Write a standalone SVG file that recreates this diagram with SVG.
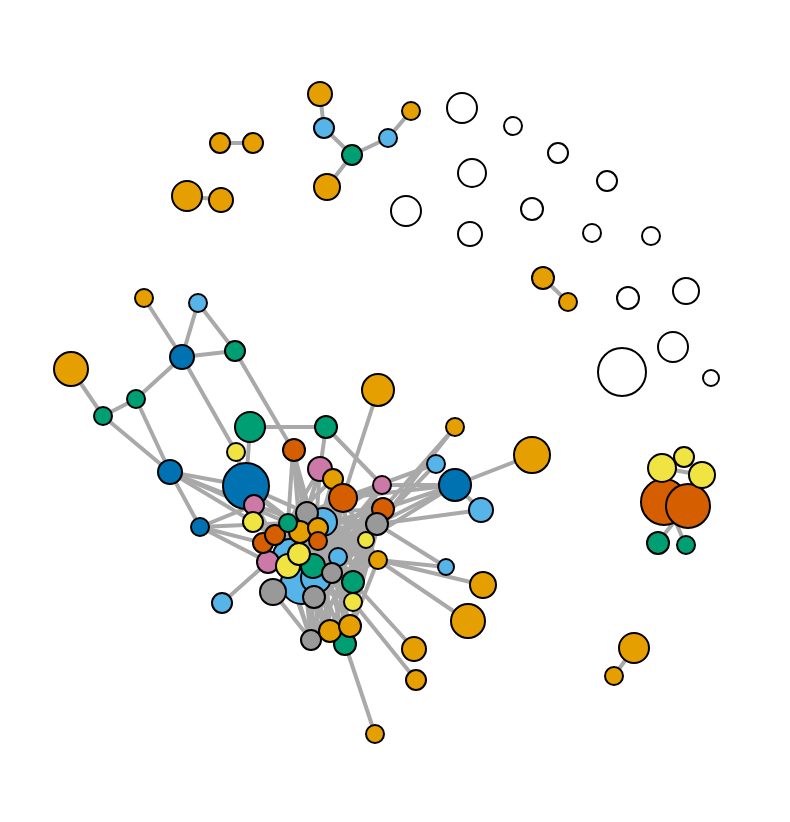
<svg xmlns="http://www.w3.org/2000/svg" width="790" height="822" viewBox="0 0 790 822">
<style>
.e line{stroke:#A9A9A9;stroke-width:4;stroke-linecap:round}
circle{stroke:#000;stroke-width:2}
.or{fill:#E69F00}.sk{fill:#56B4E9}.gr{fill:#009E73}.ye{fill:#F0E442}.bl{fill:#0072B2}.vm{fill:#D55E00}.pk{fill:#CC79A7}.gy{fill:#999999}.wh{fill:#FFFFFF}
</style>
<rect width="790" height="822" fill="#fff"/>
<g id="connectors" class="e">
<line x1="220" y1="143" x2="253" y2="143"/>
<line x1="187" y1="196" x2="221" y2="200"/>
<line x1="320" y1="94" x2="324" y2="128"/>
<line x1="324" y1="128" x2="352" y2="155"/>
<line x1="352" y1="155" x2="388" y2="138"/>
<line x1="388" y1="138" x2="411" y2="111"/>
<line x1="352" y1="155" x2="327" y2="187"/>
<line x1="543" y1="278" x2="568" y2="302"/>
<line x1="634" y1="648" x2="614" y2="676"/>
<line x1="662" y1="468" x2="684" y2="457"/>
<line x1="684" y1="457" x2="702" y2="475"/>
<line x1="662" y1="468" x2="702" y2="475"/>
<line x1="658" y1="542" x2="688" y2="505"/>
<line x1="685" y1="544" x2="667" y2="501"/>
<line x1="667" y1="501" x2="688" y2="505"/>
<line x1="144" y1="298" x2="182" y2="357"/>
<line x1="198" y1="303" x2="182" y2="357"/>
<line x1="198" y1="303" x2="235" y2="351"/>
<line x1="182" y1="357" x2="235" y2="351"/>
<line x1="182" y1="357" x2="136" y2="399"/>
<line x1="71" y1="369" x2="103" y2="416"/>
<line x1="103" y1="416" x2="136" y2="399"/>
<line x1="136" y1="399" x2="170" y2="472"/>
<line x1="103" y1="416" x2="170" y2="472"/>
<line x1="182" y1="357" x2="236" y2="452"/>
<line x1="235" y1="351" x2="293" y2="450"/>
<line x1="250" y1="427" x2="326" y2="427"/>
<line x1="250" y1="427" x2="246" y2="486"/>
<line x1="170" y1="472" x2="200" y2="527"/>
<line x1="170" y1="472" x2="246" y2="486"/>
<line x1="170" y1="472" x2="254" y2="505"/>
<line x1="170" y1="472" x2="288" y2="523"/>
<line x1="170" y1="472" x2="275" y2="535"/>
<line x1="200" y1="527" x2="254" y2="505"/>
<line x1="200" y1="527" x2="263" y2="543"/>
<line x1="200" y1="527" x2="288" y2="523"/>
<line x1="200" y1="527" x2="268" y2="562"/>
<line x1="222" y1="603" x2="268" y2="562"/>
<line x1="236" y1="452" x2="246" y2="486"/>
<line x1="246" y1="486" x2="300" y2="532"/>
<line x1="246" y1="486" x2="307" y2="513"/>
<line x1="246" y1="486" x2="288" y2="566"/>
<line x1="246" y1="486" x2="318" y2="541"/>
<line x1="254" y1="505" x2="318" y2="528"/>
<line x1="253" y1="522" x2="313" y2="566"/>
<line x1="293" y1="450" x2="300" y2="532"/>
<line x1="293" y1="450" x2="307" y2="513"/>
<line x1="293" y1="450" x2="318" y2="541"/>
<line x1="293" y1="450" x2="288" y2="523"/>
<line x1="293" y1="450" x2="313" y2="566"/>
<line x1="326" y1="427" x2="320" y2="469"/>
<line x1="326" y1="427" x2="382" y2="485"/>
<line x1="320" y1="469" x2="300" y2="532"/>
<line x1="320" y1="469" x2="288" y2="523"/>
<line x1="320" y1="469" x2="313" y2="566"/>
<line x1="320" y1="469" x2="307" y2="513"/>
<line x1="333" y1="479" x2="302" y2="583"/>
<line x1="333" y1="479" x2="275" y2="535"/>
<line x1="378" y1="390" x2="343" y2="498"/>
<line x1="382" y1="485" x2="343" y2="498"/>
<line x1="455" y1="427" x2="383" y2="509"/>
<line x1="455" y1="427" x2="366" y2="540"/>
<line x1="436" y1="464" x2="377" y2="524"/>
<line x1="436" y1="464" x2="343" y2="498"/>
<line x1="455" y1="485" x2="382" y2="485"/>
<line x1="455" y1="485" x2="383" y2="509"/>
<line x1="455" y1="485" x2="377" y2="524"/>
<line x1="455" y1="485" x2="343" y2="498"/>
<line x1="455" y1="485" x2="366" y2="540"/>
<line x1="532" y1="455" x2="455" y2="485"/>
<line x1="455" y1="485" x2="481" y2="510"/>
<line x1="481" y1="510" x2="377" y2="524"/>
<line x1="446" y1="567" x2="378" y2="560"/>
<line x1="446" y1="567" x2="377" y2="524"/>
<line x1="483" y1="585" x2="378" y2="560"/>
<line x1="468" y1="621" x2="378" y2="560"/>
<line x1="414" y1="649" x2="353" y2="582"/>
<line x1="416" y1="680" x2="353" y2="602"/>
<line x1="375" y1="734" x2="345" y2="644"/>
<line x1="307" y1="513" x2="377" y2="524"/><line x1="307" y1="513" x2="383" y2="509"/><line x1="307" y1="513" x2="366" y2="540"/><line x1="307" y1="513" x2="378" y2="560"/><line x1="307" y1="513" x2="353" y2="582"/><line x1="307" y1="513" x2="353" y2="602"/><line x1="307" y1="513" x2="343" y2="498"/><line x1="307" y1="513" x2="382" y2="485"/>
<line x1="300" y1="532" x2="377" y2="524"/><line x1="300" y1="532" x2="383" y2="509"/><line x1="300" y1="532" x2="366" y2="540"/><line x1="300" y1="532" x2="378" y2="560"/><line x1="300" y1="532" x2="353" y2="582"/><line x1="300" y1="532" x2="353" y2="602"/><line x1="300" y1="532" x2="343" y2="498"/><line x1="300" y1="532" x2="382" y2="485"/>
<line x1="275" y1="535" x2="377" y2="524"/><line x1="275" y1="535" x2="383" y2="509"/><line x1="275" y1="535" x2="366" y2="540"/><line x1="275" y1="535" x2="378" y2="560"/><line x1="275" y1="535" x2="353" y2="582"/><line x1="275" y1="535" x2="343" y2="498"/>
<line x1="288" y1="566" x2="377" y2="524"/><line x1="288" y1="566" x2="383" y2="509"/><line x1="288" y1="566" x2="366" y2="540"/><line x1="288" y1="566" x2="378" y2="560"/><line x1="288" y1="566" x2="353" y2="602"/><line x1="288" y1="566" x2="343" y2="498"/>
<line x1="273" y1="592" x2="377" y2="524"/><line x1="273" y1="592" x2="366" y2="540"/><line x1="273" y1="592" x2="353" y2="582"/><line x1="273" y1="592" x2="343" y2="498"/>
<line x1="302" y1="583" x2="377" y2="524"/><line x1="302" y1="583" x2="383" y2="509"/><line x1="302" y1="583" x2="366" y2="540"/><line x1="302" y1="583" x2="378" y2="560"/><line x1="302" y1="583" x2="353" y2="602"/><line x1="302" y1="583" x2="382" y2="485"/>
<line x1="313" y1="566" x2="377" y2="524"/><line x1="313" y1="566" x2="383" y2="509"/><line x1="313" y1="566" x2="378" y2="560"/><line x1="313" y1="566" x2="343" y2="498"/>
<line x1="268" y1="562" x2="377" y2="524"/><line x1="268" y1="562" x2="366" y2="540"/><line x1="268" y1="562" x2="343" y2="498"/>
<line x1="316" y1="578" x2="377" y2="524"/><line x1="316" y1="578" x2="383" y2="509"/><line x1="316" y1="578" x2="343" y2="498"/><line x1="316" y1="578" x2="366" y2="540"/>
<line x1="332" y1="573" x2="377" y2="524"/><line x1="332" y1="573" x2="383" y2="509"/><line x1="332" y1="573" x2="343" y2="498"/><line x1="332" y1="573" x2="382" y2="485"/>
<line x1="338" y1="557" x2="383" y2="509"/><line x1="338" y1="557" x2="382" y2="485"/><line x1="338" y1="557" x2="377" y2="524"/>
<line x1="314" y1="597" x2="377" y2="524"/><line x1="314" y1="597" x2="366" y2="540"/><line x1="314" y1="597" x2="383" y2="509"/><line x1="314" y1="597" x2="378" y2="560"/>
<line x1="323" y1="522" x2="377" y2="524"/><line x1="323" y1="522" x2="366" y2="540"/><line x1="323" y1="522" x2="378" y2="560"/><line x1="323" y1="522" x2="353" y2="582"/>
<line x1="318" y1="541" x2="353" y2="602"/><line x1="318" y1="541" x2="378" y2="560"/><line x1="318" y1="541" x2="383" y2="509"/>
<line x1="343" y1="498" x2="353" y2="582"/><line x1="343" y1="498" x2="366" y2="540"/><line x1="343" y1="498" x2="378" y2="560"/><line x1="343" y1="498" x2="311" y2="640"/>
<line x1="300" y1="532" x2="311" y2="640"/><line x1="288" y1="566" x2="311" y2="640"/><line x1="307" y1="513" x2="330" y2="631"/><line x1="288" y1="566" x2="330" y2="631"/><line x1="300" y1="532" x2="350" y2="626"/><line x1="313" y1="566" x2="345" y2="644"/><line x1="302" y1="583" x2="345" y2="644"/><line x1="273" y1="592" x2="311" y2="640"/><line x1="323" y1="522" x2="330" y2="631"/><line x1="338" y1="557" x2="345" y2="644"/><line x1="323" y1="522" x2="350" y2="626"/><line x1="307" y1="513" x2="311" y2="640"/>
<line x1="275" y1="535" x2="311" y2="640"/><line x1="275" y1="535" x2="330" y2="631"/><line x1="300" y1="532" x2="345" y2="644"/><line x1="318" y1="528" x2="311" y2="640"/><line x1="318" y1="528" x2="345" y2="644"/><line x1="332" y1="573" x2="311" y2="640"/><line x1="332" y1="573" x2="350" y2="626"/>
<line x1="377" y1="524" x2="353" y2="582"/><line x1="383" y1="509" x2="353" y2="602"/><line x1="366" y1="540" x2="330" y2="631"/><line x1="377" y1="524" x2="311" y2="640"/><line x1="378" y1="560" x2="345" y2="644"/><line x1="377" y1="524" x2="330" y2="631"/><line x1="383" y1="509" x2="345" y2="644"/><line x1="366" y1="540" x2="311" y2="640"/>
</g>
<g id="w1"><circle class="wh" cx="462" cy="108" r="15"/></g>
<g id="w2"><circle class="wh" cx="513" cy="126" r="9"/></g>
<g id="w3"><circle class="wh" cx="558" cy="153" r="10"/></g>
<g id="w4"><circle class="wh" cx="607" cy="181" r="10"/></g>
<g id="w5"><circle class="wh" cx="472" cy="173" r="14"/></g>
<g id="w6"><circle class="wh" cx="406" cy="211" r="15"/></g>
<g id="w7"><circle class="wh" cx="532" cy="209" r="11"/></g>
<g id="w8"><circle class="wh" cx="470" cy="234" r="12"/></g>
<g id="w9"><circle class="wh" cx="592" cy="233" r="9"/></g>
<g id="w10"><circle class="wh" cx="651" cy="236" r="9"/></g>
<g id="w11"><circle class="wh" cx="628" cy="298" r="11"/></g>
<g id="w12"><circle class="wh" cx="686" cy="291" r="13"/></g>
<g id="w13"><circle class="wh" cx="673" cy="347" r="15"/></g>
<g id="w14"><circle class="wh" cx="622" cy="372" r="24"/></g>
<g id="w15"><circle class="wh" cx="711" cy="378" r="8"/></g>
<g id="a1"><circle class="or" cx="220" cy="143" r="10"/></g>
<g id="a2"><circle class="or" cx="253" cy="143" r="10"/></g>
<g id="b1"><circle class="or" cx="187" cy="196" r="15"/></g>
<g id="b2"><circle class="or" cx="221" cy="200" r="12"/></g>
<g id="s1"><circle class="or" cx="320" cy="94" r="12"/></g>
<g id="s2"><circle class="sk" cx="324" cy="128" r="10"/></g>
<g id="s3"><circle class="gr" cx="352" cy="155" r="10"/></g>
<g id="s4"><circle class="sk" cx="388" cy="138" r="9"/></g>
<g id="s5"><circle class="or" cx="411" cy="111" r="9"/></g>
<g id="s6"><circle class="or" cx="327" cy="187" r="13"/></g>
<g id="p1"><circle class="or" cx="543" cy="278" r="11"/></g>
<g id="p2"><circle class="or" cx="568" cy="302" r="9"/></g>
<g id="q1"><circle class="or" cx="634" cy="648" r="15"/></g>
<g id="q2"><circle class="or" cx="614" cy="676" r="9"/></g>
<g id="r1"><circle class="vm" cx="664" cy="502" r="23"/></g>
<g id="r2"><circle class="vm" cx="688" cy="506" r="22"/></g>
<g id="r3"><circle class="ye" cx="662" cy="468" r="14"/></g>
<g id="r4"><circle class="ye" cx="684" cy="457" r="10"/></g>
<g id="r5"><circle class="ye" cx="702" cy="475" r="13"/></g>
<g id="r6"><circle class="gr" cx="658" cy="543" r="11"/></g>
<g id="r7"><circle class="gr" cx="686" cy="545" r="9"/></g>
<g id="m_or1"><circle class="or" cx="144" cy="298" r="9"/></g>
<g id="m_sk1"><circle class="sk" cx="198" cy="303" r="9"/></g>
<g id="m_bl1"><circle class="bl" cx="182" cy="357" r="12"/></g>
<g id="m_gr1"><circle class="gr" cx="235" cy="351" r="10"/></g>
<g id="m_or2"><circle class="or" cx="71" cy="369" r="17"/></g>
<g id="m_gr2"><circle class="gr" cx="136" cy="399" r="9"/></g>
<g id="m_gr3"><circle class="gr" cx="103" cy="416" r="9"/></g>
<g id="m_bl2"><circle class="bl" cx="170" cy="472" r="12"/></g>
<g id="m_bl3"><circle class="bl" cx="200" cy="527" r="9"/></g>
<g id="m_gr4"><circle class="gr" cx="250" cy="427" r="15"/></g>
<g id="m_ye1"><circle class="ye" cx="236" cy="452" r="9"/></g>
<g id="m_gr5"><circle class="gr" cx="326" cy="427" r="11"/></g>
<g id="m_or3"><circle class="or" cx="378" cy="390" r="16"/></g>
<g id="m_vm1"><circle class="vm" cx="294" cy="450" r="11"/></g>
<g id="m_bl4"><circle class="bl" cx="246" cy="486" r="23"/></g>
<g id="m_pk1"><circle class="pk" cx="254" cy="505" r="10"/></g>
<g id="m_ye2"><circle class="ye" cx="253" cy="522" r="10"/></g>
<g id="m_or10"><circle class="or" cx="455" cy="427" r="9"/></g>
<g id="m_sk8"><circle class="sk" cx="436" cy="464" r="9"/></g>
<g id="m_bl5"><circle class="bl" cx="455" cy="485" r="16"/></g>
<g id="m_or11"><circle class="or" cx="532" cy="455" r="18"/></g>
<g id="m_sk9"><circle class="sk" cx="481" cy="510" r="12"/></g>
<g id="m_sk10"><circle class="sk" cx="446" cy="567" r="8"/></g>
<g id="m_or12"><circle class="or" cx="483" cy="585" r="13"/></g>
<g id="m_or13"><circle class="or" cx="468" cy="621" r="17"/></g>
<g id="m_or14"><circle class="or" cx="414" cy="649" r="12"/></g>
<g id="m_or15"><circle class="or" cx="416" cy="680" r="10"/></g>
<g id="m_or16"><circle class="or" cx="375" cy="734" r="9"/></g>
<g id="m_sk3"><circle class="sk" cx="222" cy="603" r="10"/></g>
<g id="m_pk2"><circle class="pk" cx="320" cy="469" r="12"/></g>
<g id="m_or4"><circle class="or" cx="333" cy="479" r="10"/></g>
<g id="m_vm2"><circle class="vm" cx="343" cy="498" r="14"/></g>
<g id="m_pk3"><circle class="pk" cx="382" cy="485" r="9"/></g>
<g id="m_vm3"><circle class="vm" cx="383" cy="509" r="11"/></g>
<g id="m_gy1"><circle class="gy" cx="377" cy="524" r="11"/></g>
<g id="m_ye3"><circle class="ye" cx="366" cy="540" r="8"/></g>
<g id="m_or5"><circle class="or" cx="378" cy="560" r="9"/></g>
<g id="m_sk4"><circle class="sk" cx="302" cy="583" r="21"/></g>
<g id="m_sk6"><circle class="sk" cx="290" cy="556" r="17"/></g>
<g id="m_sk5"><circle class="sk" cx="316" cy="578" r="15"/></g>
<g id="m_sk7"><circle class="sk" cx="323" cy="522" r="14"/></g>
<g id="m_pk4"><circle class="pk" cx="268" cy="562" r="11"/></g>
<g id="m_vm6"><circle class="vm" cx="263" cy="543" r="10"/></g>
<g id="m_vm5"><circle class="vm" cx="275" cy="535" r="10"/></g>
<g id="m_gy6"><circle class="gy" cx="307" cy="513" r="11"/></g>
<g id="m_or8"><circle class="or" cx="300" cy="532" r="11"/></g>
<g id="m_or9"><circle class="or" cx="318" cy="528" r="10"/></g>
<g id="m_gr8"><circle class="gr" cx="288" cy="523" r="9"/></g>
<g id="m_vm4"><circle class="vm" cx="318" cy="541" r="9"/></g>
<g id="m_gr9"><circle class="gr" cx="313" cy="566" r="12"/></g>
<g id="m_ye6"><circle class="ye" cx="288" cy="566" r="12"/></g>
<g id="m_ye5"><circle class="ye" cx="299" cy="554" r="11"/></g>
<g id="m_sk2"><circle class="sk" cx="338" cy="557" r="9"/></g>
<g id="m_gy2"><circle class="gy" cx="332" cy="573" r="10"/></g>
<g id="m_gy4"><circle class="gy" cx="273" cy="592" r="13"/></g>
<g id="m_gy5"><circle class="gy" cx="314" cy="597" r="11"/></g>
<g id="m_gr6"><circle class="gr" cx="353" cy="582" r="11"/></g>
<g id="m_ye4"><circle class="ye" cx="353" cy="602" r="9"/></g>
<g id="m_gr7"><circle class="gr" cx="345" cy="644" r="11"/></g>
<g id="m_gy3"><circle class="gy" cx="311" cy="640" r="10"/></g>
<g id="m_or7"><circle class="or" cx="330" cy="631" r="11"/></g>
<g id="m_or6"><circle class="or" cx="350" cy="626" r="11"/></g>
</svg>
